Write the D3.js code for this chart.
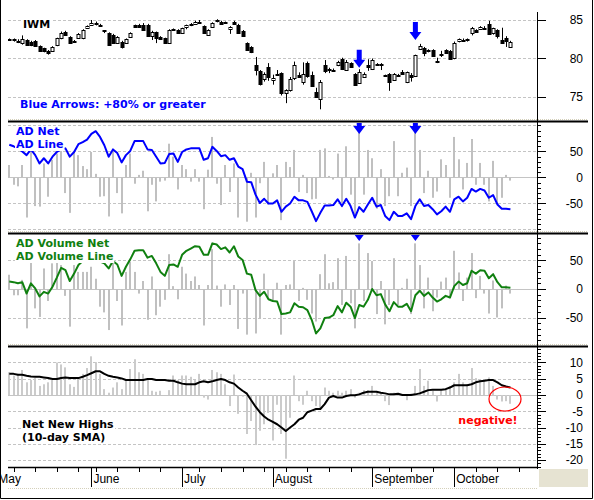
<!DOCTYPE html>
<html>
<head>
<meta charset="utf-8">
<script src="https://cdnjs.cloudflare.com/ajax/libs/d3/7.8.5/d3.min.js"></script>
<style>
body { margin: 0; background: #fff; }
svg text { font-family: "Liberation Sans", Arial, sans-serif; font-size: 12px; }
svg text.lbl { font-family: "DejaVu Sans", Verdana, sans-serif; font-weight: bold; font-size: 11px; }
</style>
</head>
<body>
<svg id="chart" width="594" height="500"></svg>
<script>
// IWM daily, 4 May 2007 - 18 Oct 2007
var firstDay = "2007-05-04";
var holidays = ["2007-05-28", "2007-07-04", "2007-09-03"];

var opens = [82.4,82.5,82.3,82.0,82.4,82.2,82.3,81.6,81.3,81.0,
	81.0,81.75,82.6,83.5,82.8,82.3,82.7,82.6,84.0,84.4,
	84.6,84.4,83.7,83.3,83.0,82.0,82.2,82.0,82.8,84.3,
	84.4,84.4,84.4,83.0,83.4,82.8,82.6,82.0,83.7,83.7,
	83.3,84.1,84.4,84.5,84.8,84.2,83.05,84.1,84.9,84.8,
	84.7,83.9,84.8,84.4,83.6,82.0,81.5,79.2,78.4,77.4,
	78.9,77.2,78.0,78.1,75.5,75.9,77.4,77.9,76.9,79.4,
	77.9,75.7,74.8,79.2,78.6,78.5,79.2,79.9,78.6,79.4,
	78.0,76.9,77.6,79.2,78.6,79.3,79.3,77.8,78.0,77.2,
	77.9,78.2,76.9,77.8,77.7,81.2,81.4,81.1,81.1,79.7,
	80.6,81.1,81.0,80.0,82.2,82.4,82.5,83.3,83.7,83.9,
	84.0,84.5,83.2,83.7,82.4,82.7,81.5];
var highs = [82.6,82.6,82.5,83.0,82.5,82.3,82.4,81.7,81.4,81.1,
	81.6,82.7,83.5,83.6,82.9,82.4,83.3,83.8,84.3,85.0,
	84.8,84.5,83.7,83.4,83.2,82.9,82.3,82.6,83.4,84.4,
	84.5,84.6,84.5,83.6,83.5,82.9,82.7,83.8,83.9,83.8,
	84.0,84.4,84.6,84.9,85.0,84.3,83.8,84.7,85.1,84.9,
	84.8,84.2,84.9,84.5,83.7,82.1,81.6,80.2,78.5,78.2,
	79.4,77.9,78.5,78.2,76.0,77.6,79.6,78.2,79.5,79.6,
	78.3,76.2,77.2,79.8,78.8,78.7,79.7,80.1,79.8,79.5,
	78.1,78.6,78.2,79.9,80.0,79.4,79.4,77.9,78.1,78.1,
	78.0,78.5,78.3,78.1,80.5,81.9,81.5,81.2,81.2,80.1,
	81.0,81.2,81.1,82.2,82.6,82.6,82.6,84.1,83.8,84.2,
	84.2,84.9,84.0,83.8,84.0,82.9,82.3];
var lows = [82.3,82.2,82.0,81.8,81.7,81.6,81.5,80.9,80.8,80.5,
	80.9,81.6,82.5,83.0,81.9,82.1,82.6,82.5,83.9,84.3,
	84.3,84.2,83.3,81.7,81.9,81.9,81.3,81.9,82.7,84.0,
	84.0,83.6,82.9,82.4,82.0,82.4,81.9,81.9,83.6,83.2,
	83.2,83.8,84.2,84.4,84.7,83.2,83.0,84.0,84.7,84.5,
	84.6,83.2,84.5,83.2,82.8,81.0,80.7,77.8,76.5,77.0,
	77.1,76.6,77.9,75.2,74.2,75.7,77.2,77.5,76.6,77.5,
	76.3,74.9,73.4,78.1,78.1,78.4,79.0,78.5,78.4,78.8,
	76.5,76.8,77.5,78.4,78.5,79.2,78.5,77.6,75.8,77.1,
	77.8,77.9,76.8,77.0,77.6,81.1,80.3,80.8,80.2,79.4,
	80.2,80.6,80.0,79.9,82.1,82.3,82.2,83.0,83.4,83.8,
	83.9,83.1,83.1,82.6,82.0,81.5,81.4];
var closes = [82.5,82.4,82.2,82.5,81.8,81.75,81.6,81.0,80.9,80.8,
	81.5,82.6,83.3,83.1,82.0,82.2,83.2,83.7,84.2,84.6,
	84.5,84.3,83.6,81.8,82.0,82.8,81.5,82.5,83.3,84.1,
	84.1,83.7,83.0,83.5,82.6,82.5,82.0,83.7,83.8,83.3,
	83.9,84.35,84.5,84.8,84.8,83.3,83.7,84.6,84.95,84.6,
	84.7,84.1,84.6,83.3,82.9,81.1,80.8,78.5,76.7,78.0,
	77.6,77.5,78.0,75.5,75.9,77.3,79.1,77.7,78.0,77.7,
	76.5,75.1,77.0,78.4,78.6,78.5,79.6,78.6,79.6,78.9,
	76.6,78.3,78.0,78.9,79.8,79.3,79.3,77.8,76.9,78.0,
	77.9,78.0,78.2,77.5,80.4,81.6,80.8,81.1,80.3,79.7,
	80.6,80.7,80.0,82.0,82.5,82.4,82.5,84.0,83.5,84.1,
	84.0,83.2,83.9,82.9,82.0,82.3,82.2];

var adNet = [24,-14,-17,24,-77,56,-55,-56,27,-37,
	34,46,54,-30,-68,49,43,22,16,49,
	7,-37,-36,-75,49,-30,-69,24,46,-12,
	5,13,-65,-14,-46,-8,-6,65,40,-23,
	24,16,-8,16,-8,-61,15,78,-12,-53,
	24,-28,27,-77,-1,-85,9,-77,-11,30,
	-52,8,24,-82,30,20,53,-28,5,-30,
	-42,-41,53,56,3,-4,46,-49,60,-33,
	-71,103,-33,53,37,-60,16,-55,-36,70,
	-36,9,19,-55,103,53,-30,13,-39,-27,
	35,24,-39,78,35,-23,28,74,-14,28,
	-14,-46,32,-49,-39,5,-6];
var adLine = [63,60,56,50,43,54,43,27,37,27,
	40,49,54,56,40,49,64,68,73,84,
	89,78,62,40,54,47,29,43,51,70,
	70,70,54,53,40,27,28,45,46,30,
	49,54,56,56,56,34,37,59,51,41,
	43,34,37,21,16,-8,-9,-33,-49,-41,
	-50,-50,-44,-66,-56,-50,-37,-44,-44,-47,
	-65,-84,-68,-54,-54,-53,-42,-55,-41,-55,
	-77,-57,-66,-52,-39,-56,-53,-74,-82,-66,
	-74,-74,-69,-80,-55,-42,-55,-53,-61,-71,
	-65,-56,-66,-42,-37,-46,-39,-22,-27,-22,
	-25,-39,-34,-52,-60,-60,-61];

var advNet = [25,-11,-11,16,-69,49,-34,-49,36,-21,
	45,49,42,-12,-66,42,30,30,30,39,
	18,-31,-41,-72,48,-21,-64,30,48,30,
	-8,14,-54,22,-46,-31,-19,61,5,-18,
	39,27,14,22,7,-64,7,70,6,-31,
	8,-28,7,-70,-8,-80,-2,-78,-51,27,
	-16,-22,11,-80,7,8,49,-21,2,-19,
	-43,-57,26,61,10,12,54,-28,58,-25,
	-69,80,-21,63,49,-44,14,-62,-28,54,
	-28,2,18,-44,80,42,-34,20,-39,-15,
	13,20,-16,67,29,-21,20,63,-16,23,
	-8,-43,15,-50,-34,6,-8];
var advLine = [13,12,10,12,-8,10,1,-13,-5,-8,
	4,20,37,33,14,27,42,49,54,57,
	54,48,45,36,49,43,23,39,52,67,
	68,68,55,58,45,30,23,42,43,39,
	60,67,71,75,74,60,60,80,78,70,
	73,64,75,57,51,27,25,-2,-12,-5,
	-18,-21,-22,-44,-43,-41,-25,-31,-32,-37,
	-54,-78,-69,-51,-50,-46,-30,-41,-24,-31,
	-51,-28,-31,-19,0,-11,-9,-27,-39,-23,
	-31,-31,-26,-39,-11,-3,-12,-6,-15,-22,
	-18,-12,-15,5,13,7,10,32,27,33,
	32,19,26,12,3,3,2];

var netNewHighs = [7,6,6.5,7.7,3.9,4.6,5.2,2.8,3.3,3.9,
	4.6,10,9.4,8.5,3.3,2.5,5.4,6.5,8.3,11.9,
	10.1,6.5,1.8,0.7,2.3,3.9,1.8,4.6,8,11,
	7,6.5,4.6,1.3,1,1.3,0,1.5,6,4.6,
	6,6,5.6,4.6,6.5,-0.8,-1.4,7.7,7,6.5,
	3.3,-3.4,6.3,-5.8,-0.5,-12,-8,-15.4,-11,-9,
	-5.5,-14,-3,-12,-19.6,-7,6,-1.9,-3,1.3,
	-1.9,-3.4,-4,2.3,1.3,0.7,1.3,0.7,1.3,1.8,
	-0.8,0.7,1.5,1.5,2.8,1,0.7,-1.9,-3.1,0.7,
	0.4,0.2,-1.6,0.4,2.8,8,2.8,4.4,1.3,-2,
	1.5,2.1,2.8,3.9,6.5,3.9,3.3,8.3,5.2,4.9,
	4.9,5.4,2.8,-1.4,-2,-1.9,-2.7];
var nnhSma = [6.5,6.5,6.2,6.2,5.9,5.7,5.6,5.6,5.4,5.2,
	4.9,4.9,5.2,5.4,5.2,5.2,5.2,5.6,6.1,6.7,
	7.3,7.3,6.5,5.9,5.6,5.4,5.1,4.6,4.6,4.6,
	4.6,4.6,4.9,4.9,4.6,4.6,4.6,4.4,4.4,3.9,
	3.5,3.3,3.3,3.3,3.9,4.2,3.9,4.2,4.6,4.9,
	4.6,3.9,3.5,2.3,1.3,0.4,-1.6,-3.6,-5.3,-6.6,
	-7.6,-8.3,-9,-10,-11.1,-10,-9,-7.6,-7,-5.3,
	-4.8,-4.3,-4.3,-2.8,-0.8,-0.3,-0.8,-0.8,-0.3,-0.1,
	-0.1,0.2,0.7,1,1,1,0.7,0.5,0.2,0.2,
	0.4,0,0,0,0.2,0.5,1,1.5,1.6,1.6,
	1.6,1.8,2.3,3,3,3,3,3.3,3.9,4.2,
	4.4,4.6,4.6,3.9,3,2.6,2.3];

// days flagged with a blue arrow (AD net +80% or more) and the price the arrow points to
var arrowDays = [81, 94];
var arrowTips = [78.8, 82.4];

var priceTicks = [75, 80, 85];
var adTicks = [-50, 0, 50];
var nnhTicks = [-20, -15, -10, -5, 0, 5, 10];

var plotL = 8, plotR = 537;
var svg = d3.select("#chart");

// trading calendar
var parse = d3.timeParse("%Y-%m-%d"), fmt = d3.timeFormat("%Y-%m-%d");
var allDays = d3.timeDay.range(parse("2007-04-23"), parse("2007-10-27"))
	.filter(function(d) { return d.getDay() > 0 && d.getDay() < 6 && holidays.indexOf(fmt(d)) < 0; });
var start = allDays.map(fmt).indexOf(firstDay);

var x = d3.scaleLinear().domain([0, 1]).range([9.3, 13.62]);
function px(i) { return Math.round(x(i)) + 0.5; }

var panels = [
	{top: 5, bottom: 118, domain: [72.27, 86.95]},
	{top: 123, bottom: 230, domain: [-101, 104.8]},
	{top: 235, bottom: 343, domain: [-94.7, 94.7]},
	{top: 348, bottom: 467, domain: [-22.15, 14.46]}
];
panels.forEach(function(p, k) {
	p.y = d3.scaleLinear().domain(p.domain).range([p.bottom, p.top]);
	svg.append("clipPath").attr("id", "clip" + k)
		.append("rect").attr("x", plotL).attr("y", p.top)
		.attr("width", plotR - plotL).attr("height", p.bottom - p.top);
	p.g = svg.append("g").attr("clip-path", "url(#clip" + k + ")");
});

function grid(p, values, zero) {
	p.g.selectAll(null).data(values).enter().append("line")
		.attr("x1", plotL).attr("x2", plotR)
		.attr("y1", function(d) { return Math.round(p.y(d)) + 0.5; })
		.attr("y2", function(d) { return Math.round(p.y(d)) + 0.5; })
		.attr("stroke", "#c4c4c4")
		.attr("stroke-dasharray", function(d) { return (zero && d === 0) ? null : "3,2"; });
}

function bars(p, data, color) {
	p.g.selectAll(null).data(data).enter().append("rect")
		.attr("x", function(d, i) { return Math.round(x(i)) - 1; })
		.attr("width", 2)
		.attr("y", function(d) { return Math.min(p.y(d), p.y(0)); })
		.attr("height", function(d) { return Math.abs(p.y(d) - p.y(0)); })
		.attr("fill", color);
}

function line(p, data, color) {
	p.g.append("path").datum(data)
		.attr("d", d3.line().x(function(d, i) { return x(i); }).y(function(d) { return p.y(d); }))
		.attr("fill", "none").attr("stroke", color).attr("stroke-width", 2)
		.attr("stroke-linejoin", "round");
}

var arrowPath = "M-2.5,-18H2.5V-8H6L0,0L-6,-8H-2.5Z";

function label(g, lines, x0, y0, color, anchor) {
	lines.forEach(function(t, j) {
		var txt = g.append("text").attr("class", "lbl")
			.attr("x", x0).attr("y", y0 + j * 13)
			.attr("fill", color).attr("text-anchor", anchor || "start").text(t);
		var b = txt.node().getBBox();
		g.insert("rect", function() { return txt.node(); })
			.attr("x", b.x - 1).attr("y", b.y + 1).attr("width", b.width + 2).attr("height", b.height - 1)
			.attr("fill", "#fff");
	});
}

// panel 1: IWM candlesticks
var p1 = panels[0];
grid(p1, priceTicks, false);
var candles = p1.g.selectAll(".candle").data(closes).enter().append("g").attr("class", "candle");
candles.append("line")
	.attr("x1", function(d, i) { return px(i); }).attr("x2", function(d, i) { return px(i); })
	.attr("y1", function(d, i) { return p1.y(highs[i]); })
	.attr("y2", function(d, i) { return p1.y(lows[i]); })
	.attr("stroke", "#000");
candles.append("rect")
	.attr("x", function(d, i) { return px(i) - 1.5; })
	.attr("width", 3)
	.attr("y", function(d, i) { return Math.round(p1.y(Math.max(opens[i], d))) + 0.5; })
	.attr("height", function(d, i) { return Math.max(1, Math.round(Math.abs(p1.y(opens[i]) - p1.y(d)))); })
	.attr("fill", function(d, i) { return d >= opens[i] ? "#fff" : "#000"; })
	.attr("stroke", "#000");
p1.g.selectAll(".arrow").data(arrowDays).enter().append("path")
	.attr("d", arrowPath).attr("fill", "#0000ff")
	.attr("transform", function(d, j) { return "translate(" + x(d) + "," + p1.y(arrowTips[j]) + ")"; });
label(p1.g, ["IWM"], 23, 28, "#000");
label(p1.g, ["Blue Arrows: +80% or greater"], 20, 108, "#0000ff");

// panel 2: AD net / AD line
var p2 = panels[1];
grid(p2, [-100, -50, 0, 50, 100], true);
bars(p2, adNet, "#c0c0c0");
line(p2, adLine, "#0000ff");
p2.g.selectAll(".arrow").data(arrowDays).enter().append("path")
	.attr("d", arrowPath).attr("fill", "#0000ff")
	.attr("transform", function(d) { return "translate(" + x(d) + "," + (p2.top + 11) + ")"; });
label(p2.g, ["AD Net", "AD Line"], 16, 135, "#0000ff");

// panel 3: AD volume net / line
var p3 = panels[2];
grid(p3, [-100, -50, 0, 50, 100], true);
bars(p3, advNet, "#c0c0c0");
line(p3, advLine, "#108010");
p3.g.selectAll(".arrow").data(arrowDays).enter().append("path")
	.attr("d", arrowPath).attr("fill", "#0000ff")
	.attr("transform", function(d) { return "translate(" + x(d) + "," + (p3.top + 6) + ")"; });
label(p3.g, ["AD Volume Net", "AD Volume Line"], 16, 247, "#108010");

// panel 4: net new highs
var p4 = panels[3];
grid(p4, nnhTicks, true);
bars(p4, netNewHighs, "#cbcbcb");
line(p4, nnhSma, "#000");
label(p4.g, ["Net New Highs", "(10-day SMA)"], 22, 428, "#000");
svg.append("ellipse").attr("cx", 505).attr("cy", 399).attr("rx", 16).attr("ry", 12)
	.attr("fill", "none").attr("stroke", "#f00").attr("stroke-width", 1.2);
svg.append("text").attr("class", "lbl").attr("x", 488).attr("y", 424)
	.attr("text-anchor", "middle").attr("fill", "#f00").text("negative!");

// panel separators
panels.slice(0, 3).forEach(function(p) {
	svg.append("line").attr("x1", plotL).attr("x2", 588)
		.attr("y1", p.bottom + 1.5).attr("y2", p.bottom + 1.5)
		.attr("stroke", "#d4d0ba").attr("stroke-dasharray", "1,1");
	svg.append("line").attr("x1", plotL).attr("x2", 588)
		.attr("y1", p.bottom + 3.5).attr("y2", p.bottom + 3.5)
		.attr("stroke", "#000").attr("stroke-width", 2);
});

// right axis
svg.append("line").attr("x1", plotR + 0.5).attr("x2", plotR + 0.5).attr("y1", 12).attr("y2", 469)
	.attr("stroke", "#000");
function rightAxis(p, major, minorStep) {
	var ax = svg.append("g");
	if (minorStep) {
		var minor = d3.range(Math.ceil(p.domain[0] / minorStep) * minorStep, p.domain[1], minorStep);
		ax.selectAll(null).data(minor).enter().append("line")
			.attr("x1", plotR + 0.5).attr("x2", plotR + 4)
			.attr("y1", function(d) { return Math.round(p.y(d)) + 0.5; })
			.attr("y2", function(d) { return Math.round(p.y(d)) + 0.5; })
			.attr("stroke", "#000");
	}
	ax.selectAll(null).data(major).enter().append("line")
		.attr("x1", plotR + 0.5).attr("x2", plotR + 9)
		.attr("y1", function(d) { return Math.round(p.y(d)) + 0.5; })
		.attr("y2", function(d) { return Math.round(p.y(d)) + 0.5; })
		.attr("stroke", "#000");
	ax.selectAll(null).data(major).enter().append("text")
		.attr("x", 583).attr("y", function(d) { return p.y(d); }).attr("dy", "0.36em")
		.attr("text-anchor", "end").attr("font-size", "12px").text(function(d) { return d; });
}
rightAxis(p1, priceTicks, 0);
rightAxis(p2, adTicks, 10);
rightAxis(p3, adTicks, 10);
rightAxis(p4, nnhTicks, 1);

// date axis
svg.append("clipPath").attr("id", "clipx")
	.append("rect").attr("x", 1).attr("y", 460).attr("width", plotR - 1).attr("height", 30);
var xa = svg.append("g").attr("clip-path", "url(#clipx)");
svg.append("line").attr("x1", plotL).attr("x2", plotR).attr("y1", 467.5).attr("y2", 467.5)
	.attr("stroke", "#000").attr("stroke-width", 1.5);
var weekStarts = [], monthStarts = [];
allDays.forEach(function(d, k) {
	if (k === 0) return;
	var prev = allDays[k - 1], i = k - start;
	if (d.getMonth() !== prev.getMonth()) monthStarts.push({i: i, name: d3.timeFormat("%B")(d)});
	else if (+d3.timeMonday.floor(d) !== +d3.timeMonday.floor(prev)) weekStarts.push(i);
});
weekStarts = weekStarts.filter(function(i) { return x(i) >= plotL && x(i) <= plotR; });
xa.selectAll(null).data(weekStarts).enter().append("line")
	.attr("x1", function(i) { return px(i); }).attr("x2", function(i) { return px(i); })
	.attr("y1", 467.5).attr("y2", 472).attr("stroke", "#000");
xa.selectAll(null).data(monthStarts.filter(function(m) { return x(m.i) >= plotL; })).enter().append("line")
	.attr("x1", function(m) { return px(m.i); }).attr("x2", function(m) { return px(m.i); })
	.attr("y1", 467.5).attr("y2", 487).attr("stroke", "#000");
xa.selectAll(null).data(monthStarts).enter().append("text")
	.attr("x", function(m) { return x(m.i) + 2; }).attr("y", 483)
	.text(function(m) { return m.name; });
svg.append("line").attr("x1", plotL).attr("x2", plotR).attr("y1", 488.5).attr("y2", 488.5)
	.attr("stroke", "#d4d0ba").attr("stroke-dasharray", "1,1");
svg.append("rect").attr("x", 539).attr("y", 469).attr("width", 49).attr("height", 18)
	.attr("fill", "#e6e3d2");

// outer frame
svg.append("path").attr("d", "M0.5,0V498.5H592.5V0").attr("fill", "none").attr("stroke", "#000");
</script>
</body>
</html>
